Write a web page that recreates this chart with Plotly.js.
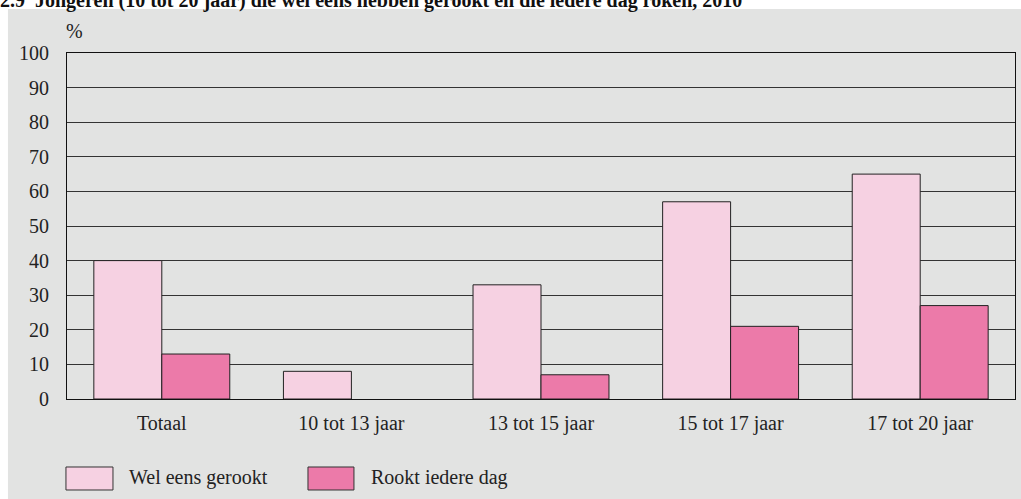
<!DOCTYPE html>
<html>
<head>
<meta charset="utf-8">
<script src="https://cdn.plot.ly/plotly-3.0.1.min.js"></script>
<style>
html,body{margin:0;padding:0;background:#fff;}
#chart{width:1021px;height:499px;}
</style>
</head>
<body>
<div id="chart"></div>
<script>
const categories = ["Totaal", "10 tot 13 jaar", "13 tot 15 jaar", "15 tot 17 jaar", "17 tot 20 jaar"];
const seriesNames = ["Wel eens gerookt", "Rookt iedere dag"];
const welEensGerookt = [40, 8, 33, 57, 65];
const rooktIedereDag = [13, null, 7, 21, 27];
const yTicks = [0, 10, 20, 30, 40, 50, 60, 70, 80, 90, 100];
const titleText = "2.9  Jongeren (10 tot 20 jaar) die wel eens hebben gerookt en die iedere dag roken, 2010";
const colors = ["#f6d1e2", "#ec7aa9"];

const serif = "Liberation Serif, Times New Roman, serif";
const traces = [
  {type: "bar", x: categories, y: welEensGerookt, name: seriesNames[0],
   marker: {color: colors[0], line: {color: "#222", width: 1}}, hoverinfo: "y"},
  {type: "bar", x: categories, y: rooktIedereDag, name: seriesNames[1],
   marker: {color: colors[1], line: {color: "#222", width: 1}}, hoverinfo: "y"}
];

const legendBoxes = [[-0.0011, 0.0485], [0.2542, 0.3027]];
const legendTextX = [0.0633, 0.3186];
const shapes = [
  {type: "rect", xref: "paper", yref: "paper", x0: -0.0623, x1: 1.02, y0: -0.32, y1: 1.1272,
   fillcolor: "#e2e3e2", line: {width: 0}, layer: "below"}
];
const annotations = [
  {xref: "paper", yref: "paper", x: 0.0074, y: 1.0636, text: "%", showarrow: false,
   xanchor: "center", yanchor: "middle", font: {family: serif, size: 20, color: "#222"}}
];
seriesNames.forEach((n, i) => {
  shapes.push({type: "rect", xref: "paper", yref: "paper", x0: legendBoxes[i][0], x1: legendBoxes[i][1],
    y0: -0.263, y1: -0.1965, fillcolor: colors[i], line: {color: "#333", width: 1}});
  annotations.push({xref: "paper", yref: "paper", x: legendTextX[i], y: -0.2283, text: n, showarrow: false,
    xanchor: "left", yanchor: "middle", font: {family: serif, size: 20, color: "#222"}});
});

const layout = {
  width: 1021, height: 499,
  margin: {l: 67, r: 6, t: 53, b: 100},
  paper_bgcolor: "#ffffff",
  plot_bgcolor: "#ffffff",
  title: {text: "<b>" + titleText + "</b>", x: 0.0, xref: "container", xanchor: "left",
          y: 1.0, yref: "container", yanchor: "middle", font: {family: serif, size: 20, color: "#111"}},
  showlegend: false,
  barmode: "group",
  bargap: 0.283,
  bargroupgap: 0,
  xaxis: {type: "category", showline: true, linecolor: "#111", linewidth: 1, mirror: true,
          ticks: "", showgrid: false, ticklabelstandoff: 6,
          tickfont: {family: serif, size: 20, color: "#222"}},
  yaxis: {range: [0, 100], tickvals: yTicks, showgrid: true, gridcolor: "#333", gridwidth: 1,
          showline: true, linecolor: "#111", linewidth: 1, mirror: true, zeroline: false,
          ticks: "", ticklabelstandoff: 13,
          tickfont: {family: serif, size: 20, color: "#222"}},
  shapes: shapes,
  annotations: annotations
};

Plotly.newPlot("chart", traces, layout, {displayModeBar: false, staticPlot: true});
</script>
</body>
</html>
